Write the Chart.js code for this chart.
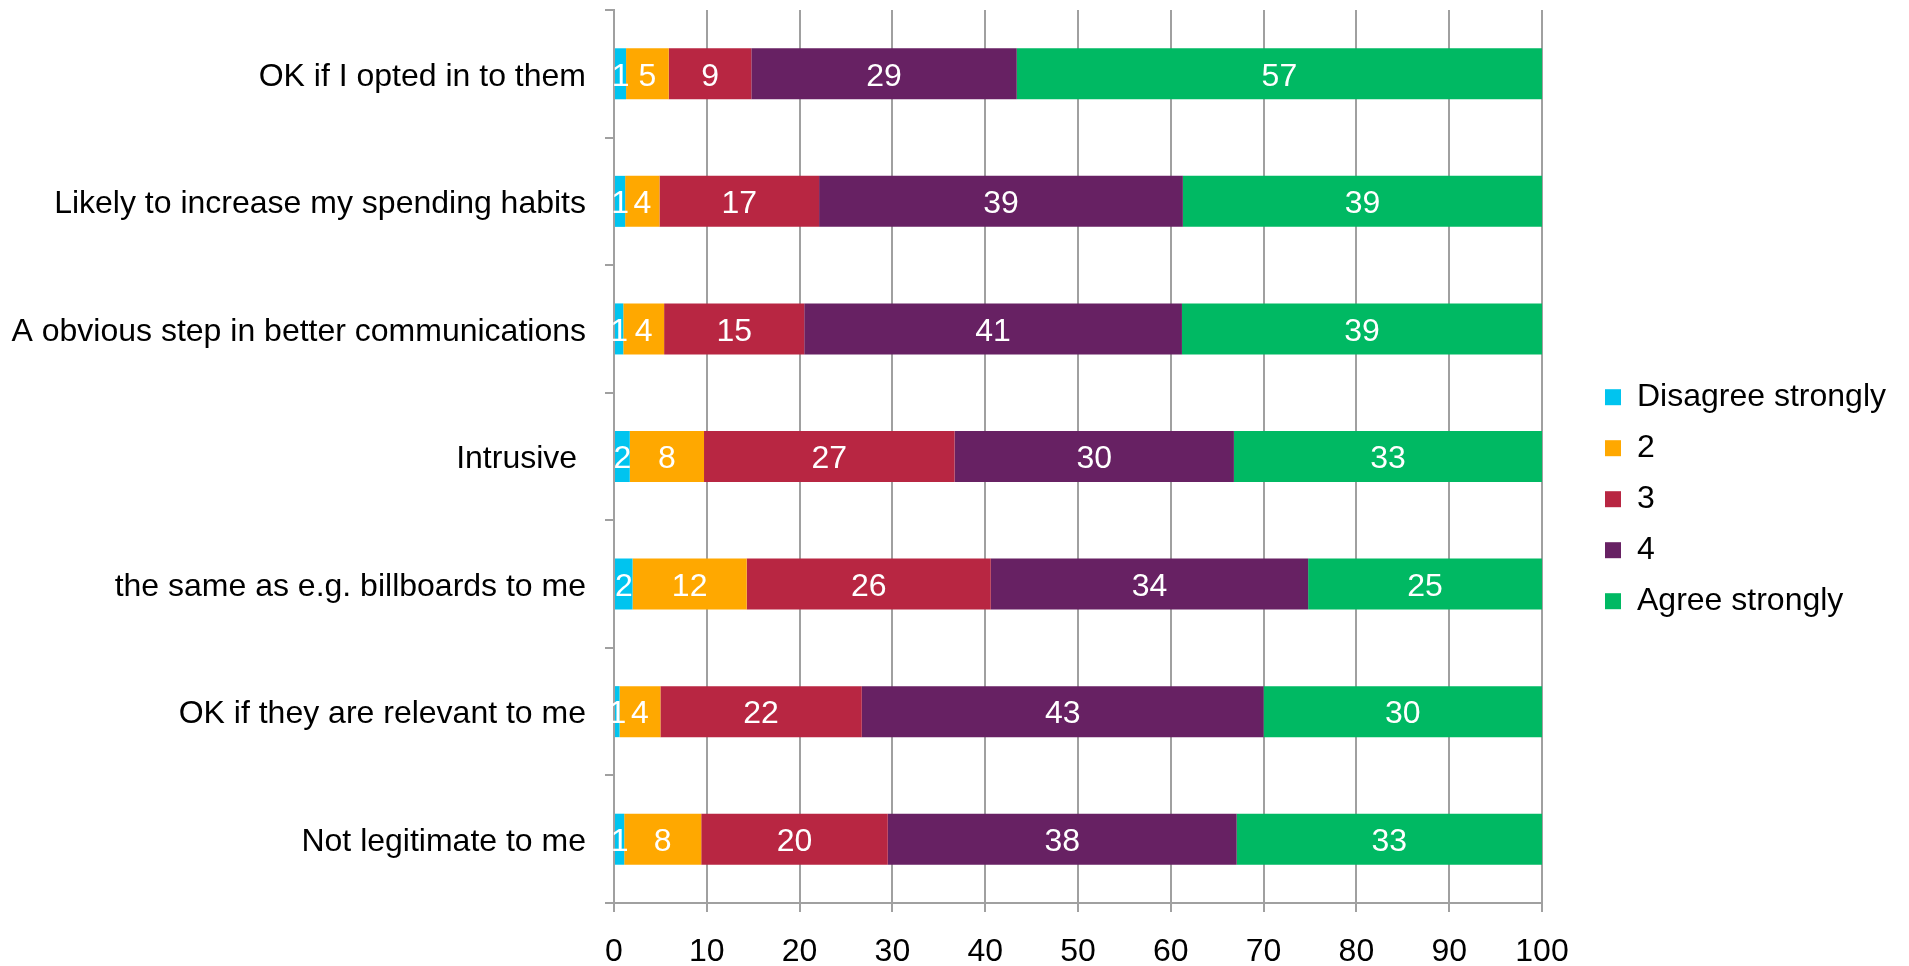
<!DOCTYPE html>
<html>
<head>
<meta charset="utf-8">
<script src="https://cdn.jsdelivr.net/npm/chart.js@4.4.1/dist/chart.umd.min.js"></script>
<style>
  html, body { margin: 0; padding: 0; background: #fff; }
  .canvas-container { width: 1909px; height: 966px; }
</style>
</head>
<body>
<div class="canvas-container"><canvas id="attitude-chart"></canvas></div>
<script>
// statements, top row first
var categories = [
    'OK if I opted in to them',
    'Likely to increase my spending habits',
    'A obvious step in better communications',
    'Intrusive ',
    'the same as e.g. billboards to me',
    'OK if they are relevant to me',
    'Not legitimate to me'
];
var seriesNames = ['Disagree strongly', '2', '3', '4', 'Agree strongly'];
var seriesColors = ['#00c4ef', '#ffa800', '#b82642', '#672163', '#00b963'];

// percentages per answer
var disagreeStrongly = [1.3, 1.2, 1.0, 1.7, 2.0, 0.6, 1.1];
var answer2 = [4.6, 3.7, 4.4, 8.0, 12.3, 4.4, 8.3];
var answer3 = [8.9, 17.2, 15.1, 27.0, 26.3, 21.7, 20.1];
var answer4 = [28.6, 39.2, 40.7, 30.1, 34.2, 43.3, 37.6];
var agreeStrongly = [56.6, 38.7, 38.8, 33.2, 25.2, 30.0, 32.9];

var seriesValues = [disagreeStrongly, answer2, answer3, answer4, agreeStrongly];

var FONT = "'Liberation Sans', Arial, sans-serif";
var GRID = '#a0a0a0';

Chart.defaults.font.family = FONT;
Chart.defaults.color = '#000';

// white value labels in the middle of each segment
var barLabels = {
    id: 'barLabels',
    afterDatasetsDraw: function (chart) {
        var ctx = chart.ctx;
        ctx.save();
        ctx.font = '32px ' + FONT;
        ctx.fillStyle = '#fff';
        ctx.textAlign = 'center';
        ctx.textBaseline = 'middle';
        chart.data.datasets.forEach(function (ds, i) {
            chart.getDatasetMeta(i).data.forEach(function (bar, j) {
                var p = bar.getProps(['x', 'y', 'base'], true);
                ctx.fillText(Math.round(ds.data[j]), (p.x + p.base) / 2, p.y + 3);
            });
        });
        ctx.restore();
    }
};

var chartData = {
    labels: categories,
    datasets: seriesNames.map(function (name, i) {
        return {
            label: name,
            data: seriesValues[i],
            backgroundColor: seriesColors[i],
            borderWidth: 0,
            barPercentage: 0.4,
            categoryPercentage: 1
        };
    })
};

var attitudeChart = new Chart(document.getElementById('attitude-chart'), {
    type: 'bar',
    data: chartData,
    plugins: [barLabels],
    options: {
        indexAxis: 'y',
        responsive: true,
        maintainAspectRatio: false,
        animation: false,
        layout: { padding: { top: 10, right: 13, left: 0, bottom: 0 } },
        scales: {
            x: {
                stacked: true,
                min: 0,
                max: 100,
                ticks: { stepSize: 10, padding: 21, maxRotation: 0, font: { size: 32 } },
                grid: { color: GRID, lineWidth: 2, tickLength: 9 },
                border: { color: GRID, width: 2 },
                afterFit: function (scale) { scale.height = 63; }
            },
            y: {
                stacked: true,
                ticks: { padding: 19, labelOffset: 3, font: { size: 32 } },
                grid: { offset: true, drawOnChartArea: false, tickLength: 9, color: GRID, lineWidth: 2 },
                border: { color: GRID, width: 2 },
                afterFit: function (scale) {
                    scale.width = 614;
                    scale.paddingTop = 0;
                    scale.paddingBottom = 0;
                }
            },
            // empty axis that keeps the legend away from the plot
            gap: {
                type: 'linear',
                axis: 'y',
                position: 'right',
                grid: { display: false },
                ticks: { display: false },
                border: { display: false },
                afterFit: function (scale) { scale.width = 44; }
            }
        },
        plugins: {
            legend: {
                position: 'right',
                align: 'center',
                title: { display: true, text: ' ', padding: 4 },
                labels: { boxWidth: 16, boxHeight: 16, padding: 19, font: { size: 32 } }
            },
            tooltip: { enabled: false }
        }
    }
});
</script>
</body>
</html>
